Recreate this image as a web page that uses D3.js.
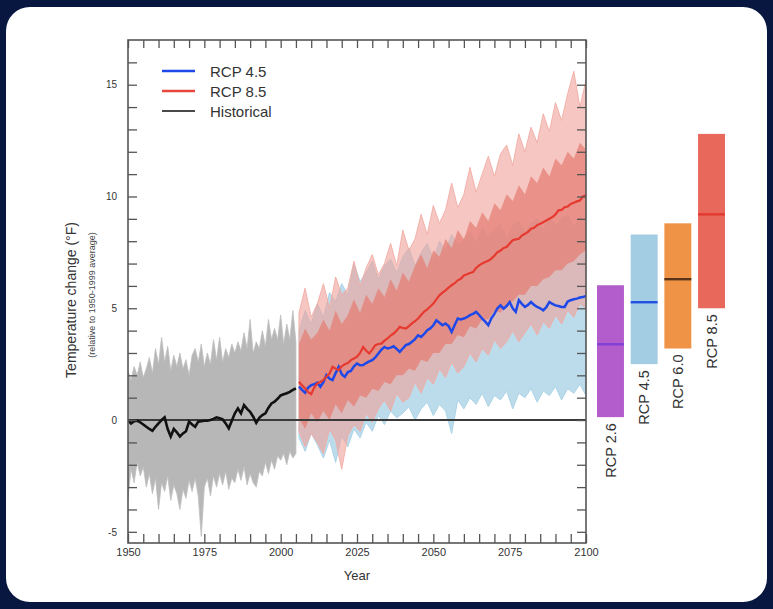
<!DOCTYPE html>
<html>
<head>
<meta charset="utf-8">
<script src="https://cdn.jsdelivr.net/npm/d3@7"></script>
<style>
  html, body { margin: 0; padding: 0; background: #07173f; }
  svg { display: block; font-family: "Liberation Sans", Arial, Helvetica, sans-serif; }
</style>
</head>
<body>
<div id="chart"></div>
<script>
// ---- data (°F, relative to 1950-1999 average) ----
const histYears = d3.range(1950, 2006);
const histMean = [
  0.00, -0.15, -0.05, -0.03, -0.10, -0.20, -0.30, -0.40, -0.48, -0.30,
  -0.15, 0.00, 0.12, -0.40, -0.74, -0.40, -0.55, -0.74, -0.60, -0.50,
  -0.07, -0.20, -0.30, -0.07, -0.05, -0.03, -0.03, 0.00, 0.05, 0.12,
  0.08, 0.03, -0.15, -0.37, -0.03, 0.30, 0.52, 0.30, 0.67, 0.50,
  0.37, 0.15, -0.12, 0.10, 0.22, 0.30, 0.55, 0.74, 0.82, 0.95,
  1.10, 1.15, 1.20, 1.26, 1.35, 1.41
];
const histHigh = [
  2.2, 1.8, 2.4, 2.0, 2.6, 1.9, 2.3, 2.8, 2.1, 3.2,
  2.5, 3.7, 2.6, 3.3, 2.2, 2.9, 2.4, 3.0, 2.3, 2.7,
  2.0, 2.9, 3.2, 2.6, 3.4, 2.4, 3.0, 2.5, 3.6, 2.7,
  3.7, 2.6, 3.2, 2.8, 3.4, 3.0, 3.5, 3.1, 3.9, 3.2,
  4.5, 3.0, 3.5, 3.2, 4.0, 3.3, 4.5, 3.6, 4.1, 3.6,
  4.7, 3.4, 4.3, 3.6, 4.9, 3.5
];
const histLow = [
  -3.5, -2.2, -2.8, -1.9, -2.5, -2.1, -3.0, -2.4, -3.3, -2.6,
  -4.0, -2.8, -3.2, -2.5, -3.6, -2.9, -3.3, -4.0, -3.1, -3.5,
  -2.7, -3.2, -2.6, -3.4, -5.2, -3.0, -2.6, -3.4, -2.5, -3.0,
  -2.4, -2.9, -2.3, -3.1, -2.6, -2.8, -2.2, -2.7, -2.1, -2.9,
  -2.4, -2.8, -3.0, -2.3, -2.5, -1.9, -2.4, -1.8, -2.2, -1.6,
  -1.8, -1.5, -2.0, -1.4, -1.7, -1.5
];

const futYears = d3.range(2006, 2101);
const rcp45Mean = [
  1.49, 1.35, 1.22, 1.45,
  1.56, 1.60, 1.67, 1.49, 1.70, 2.01, 1.85, 1.79, 2.10, 2.38,
  2.05, 1.93, 2.15, 2.20, 2.40, 2.53, 2.45, 2.46, 2.55, 2.62,
  2.68, 2.80, 2.98, 3.15, 3.27, 3.20, 3.24, 3.30, 3.18, 3.05,
  3.20, 3.35, 3.40, 3.50, 3.62, 3.79, 3.72, 3.85, 4.02, 4.10,
  4.24, 4.46, 4.35, 4.24, 4.32, 4.20, 3.94, 4.25, 4.54, 4.50,
  4.54, 4.60, 4.69, 4.75, 4.84, 4.70, 4.54, 4.40, 4.24, 4.55,
  4.75, 5.00, 5.13, 4.98, 5.10, 5.28, 5.00, 4.84, 5.36, 5.20,
  5.06, 5.15, 5.28, 5.15, 5.06, 5.00, 4.91, 5.05, 5.28, 5.20,
  5.13, 5.10, 5.06, 5.06, 5.30, 5.36, 5.40, 5.43, 5.48, 5.50,
  5.55
];
const rcp85Mean = [
  1.71, 1.55, 1.41, 1.25,
  1.16, 1.45, 1.64, 1.70, 1.79, 1.95, 2.08, 2.38, 2.30, 2.23,
  2.40, 2.50, 2.55, 2.68, 2.75, 2.83, 3.00, 3.27, 3.10, 2.98,
  3.15, 3.35, 3.40, 3.42, 3.55, 3.65, 3.78, 3.87, 4.00, 4.17,
  4.12, 4.09, 4.20, 4.32, 4.42, 4.54, 4.70, 4.85, 4.95, 5.08,
  5.21, 5.40, 5.58, 5.70, 5.80, 5.92, 6.03, 6.12, 6.25, 6.32,
  6.47, 6.52, 6.58, 6.62, 6.80, 6.92, 7.00, 7.07, 7.12, 7.22,
  7.35, 7.51, 7.58, 7.70, 7.74, 7.90, 8.04, 8.08, 8.11, 8.25,
  8.33, 8.42, 8.56, 8.60, 8.72, 8.78, 8.85, 8.93, 9.00, 9.08,
  9.20, 9.38, 9.40, 9.52, 9.55, 9.67, 9.72, 9.78, 9.82, 10.00,
  10.05
];

// model spread envelopes, every 2 years
const envYears = d3.range(2006, 2101, 2);
const rcp85High = [
  4.8, 5.9, 4.6, 5.2, 6.1, 5.0, 6.4, 5.6, 5.9, 7.1,
  6.0, 6.8, 7.4, 6.5, 7.0, 7.9, 6.9, 8.5, 7.6, 8.1,
  9.2, 8.3, 9.6, 8.8, 9.4, 10.6, 9.5, 10.1, 11.3, 10.2,
  11.0, 11.8, 10.9, 11.9, 12.3, 11.4, 12.8, 12.0, 13.1, 12.4,
  13.7, 12.9, 14.2, 13.4, 14.6, 15.6, 14.0, 15.2
];
const rcp85Low = [
  -0.5, -1.2, -0.6, -1.0, -1.5, -0.4, -0.9, -2.2, -0.7, -0.2,
  -0.5, 0.3, -0.1, 0.5, 0.9, 0.4, 1.2, 0.8, 1.0, 1.7,
  1.2, 1.9, 1.6, 2.3, 1.9, 2.6, 2.1, 2.4, 3.0, 2.6,
  3.2, 2.9, 3.6, 3.2, 3.5, 4.0, 3.5, 3.9, 4.3, 3.8,
  4.4, 4.1, 4.7, 4.3, 4.9, 4.6, 5.2, 5.0
];
const rcp85CoreHigh = [
  3.4, 4.1, 3.6, 3.9, 4.5, 4.0, 4.9, 4.3, 4.7, 5.4,
  4.8, 5.6, 5.2, 5.9, 5.5, 6.3, 5.8, 6.6, 6.2, 6.9,
  7.4, 6.8, 7.6, 7.3, 8.1, 7.7, 8.5, 8.1, 8.9, 8.6,
  9.3, 8.9, 9.7, 9.4, 10.1, 9.8, 10.5, 10.1, 10.9, 10.6,
  11.3, 10.9, 11.7, 11.4, 12.0, 11.7, 12.4, 12.1
];
const rcp85CoreLow = [
  0.1, -0.4, 0.3, -0.1, 0.4, 0.0, 0.7, 0.3, 0.9, 0.6,
  1.1, 1.0, 1.4, 1.3, 1.7, 1.6, 2.0, 2.0, 2.3, 2.2,
  2.7, 2.6, 3.0, 3.0, 3.4, 3.4, 3.8, 3.7, 4.2, 4.1,
  4.5, 4.5, 4.9, 4.8, 5.2, 5.3, 5.6, 5.6, 6.0, 6.0,
  6.3, 6.4, 6.7, 6.7, 7.0, 7.1, 7.4, 7.6
];
const rcp45High = [
  4.0, 4.9, 4.3, 5.2, 4.6, 5.7, 5.3, 6.1, 5.6, 7.0,
  6.2, 6.6, 7.1, 6.3, 6.9, 7.2, 6.6, 7.3, 7.7, 6.9,
  7.5, 7.9, 7.2, 8.0, 7.6, 8.3, 7.8, 8.1, 8.4, 7.9,
  8.6, 8.2, 8.5, 8.8, 8.1, 8.7, 8.9, 8.4, 8.8, 9.0,
  8.5, 9.1, 8.7, 9.0, 9.2, 8.6, 9.1, 8.9
];
const rcp45Low = [
  -0.8, -1.4, -0.6, -1.1, -1.7, -0.9, -1.9, -0.7, -1.2, -0.4,
  -0.8, -0.1, -0.5, 0.2, -0.2, 0.4, 0.1, 0.3, 0.6, 0.0,
  0.5, 0.8, 0.2, 0.7, 0.4, -0.6, 0.9, 0.5, 1.0, 0.7,
  1.2, 0.6, 1.1, 0.9, 1.3, 0.5, 1.2, 1.0, 1.4, 0.8,
  1.3, 1.1, 1.5, 0.9, 1.4, 1.2, 1.6, 1.1
];

// 2081-2100 ranges on the right
const barLabels = ["RCP 2.6", "RCP 4.5", "RCP 6.0", "RCP 8.5"];
const barLow = [0.13, 2.5, 3.2, 5.0];
const barHigh = [6.03, 8.3, 8.8, 12.8];
const barMid = [3.39, 5.27, 6.3, 9.2];
const barFill = ["#b35ccc", "#a3cde2", "#ef9446", "#e8695b"];
const barLine = ["#8040d8", "#2150e4", "#5a3418", "#e23a30"];

const legendLabels = ["RCP 4.5", "RCP 8.5", "Historical"];
const legendColors = ["#1f48e8", "#e8473c", "#4a4a4a"];

// ---- layout ----
const W = 773, H = 609;
const plot = { left: 128, right: 586, top: 40, bottom: 543 };

const svg = d3.select("#chart").append("svg")
  .attr("width", W)
  .attr("height", H);

svg.append("rect")
  .attr("x", 6).attr("y", 7)
  .attr("width", 761).attr("height", 595)
  .attr("rx", 24)
  .attr("fill", "#ffffff");

const x = d3.scaleLinear().domain([1950, 2100]).range([plot.left, plot.right]);
const y = d3.scaleLinear().domain([-5.5, 17]).range([plot.bottom, plot.top]);

svg.append("clipPath").attr("id", "clip")
  .append("rect")
  .attr("x", plot.left).attr("y", plot.top)
  .attr("width", plot.right - plot.left)
  .attr("height", plot.bottom - plot.top);

const g = svg.append("g").attr("clip-path", "url(#clip)");

function band(years, lo, hi) {
  return d3.area()
    .x((_, i) => x(years[i]))
    .y0((_, i) => y(lo[i]))
    .y1((_, i) => y(hi[i]))(years);
}

// historical spread
g.append("path")
  .attr("d", band(histYears, histLow, histHigh))
  .attr("fill", "#b7b7b7")
  .attr("stroke", "#bfbfbf")
  .attr("stroke-width", 0.8);

// RCP 4.5 spread
g.append("path")
  .attr("d", band(envYears, rcp45Low, rcp45High))
  .attr("fill", "#bcdcec")
  .attr("stroke", "#a6d0e4")
  .attr("stroke-width", 0.9);

// RCP 8.5 spread (outer + core)
g.append("path")
  .attr("d", band(envYears, rcp85Low, rcp85High))
  .attr("fill", "#f0a299")
  .attr("fill-opacity", 0.6)
  .attr("stroke", "#f2aca4")
  .attr("stroke-width", 0.9);

g.append("path")
  .attr("d", band(envYears, rcp85CoreLow, rcp85CoreHigh))
  .attr("fill", "#e57c70")
  .attr("fill-opacity", 0.7);

// zero line
g.append("line")
  .attr("x1", plot.left).attr("x2", plot.right)
  .attr("y1", y(0)).attr("y2", y(0))
  .attr("stroke", "#3a3a3a")
  .attr("stroke-width", 2);

const line = d3.line().x(d => x(d[0])).y(d => y(d[1]));

g.append("path")
  .attr("d", line(histYears.map((yr, i) => [yr, histMean[i]])))
  .attr("fill", "none").attr("stroke", "#111").attr("stroke-width", 2.6);

g.append("path")
  .attr("d", line(futYears.map((yr, i) => [yr, rcp45Mean[i]])))
  .attr("fill", "none").attr("stroke", "#1f48e8").attr("stroke-width", 2.5);

g.append("path")
  .attr("d", line(futYears.map((yr, i) => [yr, rcp85Mean[i]])))
  .attr("fill", "none").attr("stroke", "#e63a30").attr("stroke-width", 2.2);

// ---- axes (ticks pointing inward on all four sides) ----
const yTicks = d3.range(-5, 17);
const xTicks = d3.range(1950, 2101, 5);
const axisColor = "#555";

function styleAxis(sel) {
  sel.select(".domain").remove();
  sel.selectAll(".tick line").attr("stroke", axisColor).attr("stroke-width", 1.3);
  sel.selectAll(".tick text").attr("fill", "#333");
}

svg.append("g")
  .attr("transform", `translate(0,${plot.bottom})`)
  .call(d3.axisBottom(x).tickValues(xTicks).tickSizeInner(-9).tickSizeOuter(0).tickPadding(5)
    .tickFormat(d => d % 25 === 0 ? String(d) : ""))
  .call(styleAxis)
  .call(s => s.selectAll("text").attr("font-size", 11));

svg.append("g")
  .attr("transform", `translate(0,${plot.top})`)
  .call(d3.axisTop(x).tickValues(xTicks).tickSizeInner(-8).tickSizeOuter(0).tickFormat(""))
  .call(styleAxis);

svg.append("g")
  .attr("transform", `translate(${plot.left},0)`)
  .call(d3.axisLeft(y).tickValues(yTicks).tickSizeInner(-9).tickSizeOuter(0).tickPadding(11)
    .tickFormat(d => d % 5 === 0 ? String(d) : ""))
  .call(styleAxis)
  .call(s => s.selectAll("text").attr("font-size", 10));

svg.append("g")
  .attr("transform", `translate(${plot.right},0)`)
  .call(d3.axisRight(y).tickValues(yTicks).tickSizeInner(-9).tickSizeOuter(0).tickFormat(""))
  .call(styleAxis);

svg.append("rect")
  .attr("x", plot.left).attr("y", plot.top)
  .attr("width", plot.right - plot.left)
  .attr("height", plot.bottom - plot.top)
  .attr("fill", "none")
  .attr("stroke", axisColor)
  .attr("stroke-width", 1.6);

// axis titles
svg.append("text")
  .attr("x", (plot.left + plot.right) / 2).attr("y", 580)
  .attr("text-anchor", "middle")
  .attr("font-size", 13).attr("fill", "#333")
  .text("Year");

svg.append("text")
  .attr("transform", "translate(76,300) rotate(-90)")
  .attr("text-anchor", "middle")
  .attr("font-size", 14).attr("fill", "#333")
  .text("Temperature change (°F)");

svg.append("text")
  .attr("transform", "translate(95,295) rotate(-90)")
  .attr("text-anchor", "middle")
  .attr("font-size", 9).attr("fill", "#444")
  .text("(relative to 1950-1999 average)");

// ---- legend ----
const legend = svg.append("g");
legendLabels.forEach((lab, i) => {
  const ly = 71 + i * 20;
  legend.append("line")
    .attr("x1", 162).attr("x2", 195)
    .attr("y1", ly).attr("y2", ly)
    .attr("stroke", legendColors[i])
    .attr("stroke-width", i === 2 ? 2 : 2.6);
  legend.append("text")
    .attr("x", 210).attr("y", ly + 5.5)
    .attr("font-size", 15).attr("fill", "#333")
    .text(lab);
});

// ---- scenario range bars ----
const bx = d3.scaleBand().domain(barLabels).range([597, 725]).paddingInner(0.2);

const bars = svg.append("g");
barLabels.forEach((lab, i) => {
  const x0 = bx(lab), bw = bx.bandwidth();
  bars.append("rect")
    .attr("x", x0).attr("y", y(barHigh[i]))
    .attr("width", bw).attr("height", y(barLow[i]) - y(barHigh[i]))
    .attr("fill", barFill[i]);
  bars.append("line")
    .attr("x1", x0).attr("x2", x0 + bw)
    .attr("y1", y(barMid[i])).attr("y2", y(barMid[i]))
    .attr("stroke", barLine[i]).attr("stroke-width", 2.4);
  bars.append("text")
    .attr("transform", `translate(${x0 + bw / 2},${y(barLow[i]) + 6}) rotate(-90)`)
    .attr("text-anchor", "end")
    .attr("dy", "0.35em")
    .attr("font-size", 14.5).attr("fill", "#333")
    .text(lab);
});
</script>
</body>
</html>
